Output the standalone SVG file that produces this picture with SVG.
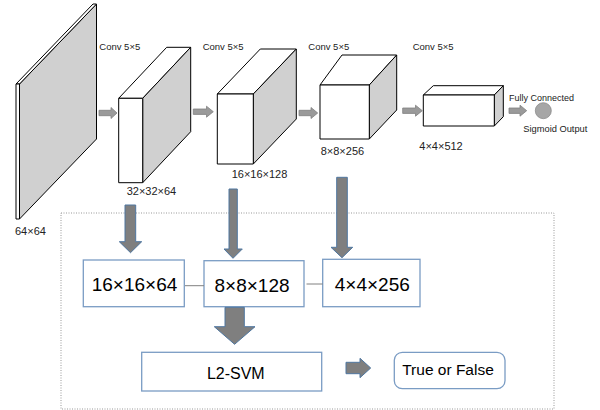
<svg xmlns="http://www.w3.org/2000/svg" width="600" height="410" viewBox="0 0 600 410">
<style>
.edge{stroke:#000;stroke-width:1;stroke-linejoin:round}
.front{fill:#fff}
.side{fill:#d0d0d0}
.top{fill:#fff}
.small{font-family:"Liberation Sans",Arial,sans-serif;font-size:9.5px;fill:#222}
.dim{font-family:"Liberation Sans",Arial,sans-serif;font-size:11px;fill:#222}
.big{font-family:"Liberation Sans",Arial,sans-serif;font-size:19px;fill:#000;text-anchor:middle}
.mid{font-family:"Liberation Sans",Arial,sans-serif;font-size:16px;fill:#000;text-anchor:middle}
.box{fill:#fff;stroke:#7a9cc4;stroke-width:1.3}
.harrow{fill:#9a9a9a;stroke:#808080;stroke-width:0.8}
.varrow{fill:#7f7f7f;stroke:#4f77a0;stroke-width:1}
.conn{stroke:#808080;stroke-width:1;fill:none}
</style>

<g id="input-plane">
  <polygon class="side edge" points="19.5,84 96.5,4 96.5,139 19.5,219"/>
  <polygon class="top edge" points="16,84 19.5,84 96.5,4 93,4"/>
  <rect class="front edge" x="16" y="84" width="3.5" height="135"/>
  <text class="dim" x="15" y="235">64×64</text>
</g>

<g id="block1">
  <polygon class="top edge" points="118.7,98.3 142.7,98.3 190.7,47.3 166.7,47.3"/>
  <polygon class="side edge" points="142.7,98.3 190.7,47.3 190.7,131.7 142.7,182.7"/>
  <rect class="front edge" x="118.7" y="98.3" width="24" height="84.4"/>
  <text class="small" x="99.3" y="49.5">Conv 5×5</text>
  <text class="dim" x="126.7" y="195">32×32×64</text>
</g>

<g id="block2">
  <polygon class="top edge" points="217.3,94 253.3,94 296.3,49 260.3,49"/>
  <polygon class="side edge" points="253.3,94 296.3,49 296.3,119 253.3,164"/>
  <rect class="front edge" x="217.3" y="94" width="36" height="70"/>
  <text class="small" x="202.7" y="49.5">Conv 5×5</text>
  <text class="dim" x="231.7" y="178">16×16×128</text>
</g>

<g id="block3">
  <polygon class="top edge" points="320,85 369.3,85 396.7,55 342,55"/>
  <polygon class="side edge" points="369.3,85 396.7,55 396.7,110 369.3,139"/>
  <rect class="front edge" x="320" y="85" width="49.3" height="54"/>
  <text class="small" x="308.3" y="49.5">Conv 5×5</text>
  <text class="dim" x="320.7" y="155">8×8×256</text>
</g>

<g id="block4">
  <polygon class="top edge" points="423.3,95 494.3,95 503.3,85.7 433.3,85.7"/>
  <polygon class="side edge" points="494.3,95 503.3,85.7 503.3,116.7 494.3,126"/>
  <rect class="front edge" x="423.3" y="95" width="71" height="31"/>
  <text class="small" x="412.7" y="49.5">Conv 5×5</text>
  <text class="dim" x="419.3" y="150">4×4×512</text>
</g>

<g id="output">
  <circle cx="543.3" cy="110.7" r="8" fill="#a6a6a6" stroke="#8c8c8c" stroke-width="0.8"/>
  <text class="small" x="509" y="101" style="font-size:9px">Fully Connected</text>
  <text class="small" x="523.3" y="131.5" style="font-size:9.3px">Sigmoid Output</text>
</g>

<g id="feat1">
  <rect class="box" x="83.3" y="260" width="101" height="46.7"/>
  <text class="big" x="134.5" y="291">16×16×64</text>
</g>
<g id="feat2">
  <rect class="box" x="204" y="260.7" width="100" height="46"/>
  <text class="big" x="252" y="291.5">8×8×128</text>
</g>
<g id="feat3">
  <rect class="box" x="322.7" y="259.3" width="97.3" height="47.4"/>
  <text class="big" x="372.3" y="290.7">4×4×256</text>
</g>
<g id="svm">
  <rect class="box" x="141.7" y="352.3" width="180" height="38.7"/>
  <text class="mid" x="235.8" y="379">L2-SVM</text>
</g>
<g id="result">
  <rect class="box" x="394.3" y="352.3" width="110.7" height="36.4" rx="8" ry="8"/>
  <text class="mid" x="448" y="375" style="font-size:15.5px">True or False</text>
</g>

<g id="connectors">
  <rect x="61" y="213" width="493" height="196" fill="none" stroke="#999" stroke-width="1" stroke-dasharray="1,1.5"/>
  <path class="harrow" d="M99,110.3 H111 V107.5 L117,113 L111,118.5 V115.7 H99 Z"/>
  <path class="harrow" d="M193.3,109 H206.5 V106.2 L213.3,111.7 L206.5,117.2 V114.4 H193.3 Z"/>
  <path class="harrow" d="M299,110.3 H311 V107.5 L317.7,113 L311,118.5 V115.7 H299 Z"/>
  <path class="harrow" d="M402.7,108 H415.5 V105.2 L422.3,110.7 L415.5,116.2 V113.4 H402.7 Z"/>
  <path class="harrow" d="M509,108 H520 V105.2 L526.7,110.7 L520,116.2 V113.4 H509 Z"/>
  <path class="varrow" d="M125,205 H135.7 V241.7 H141.7 L130.5,252.7 L119.3,241.7 H125 Z"/>
  <path class="varrow" d="M229,189 H237.3 V249 H242.3 L233,258.3 L224,249 H229 Z"/>
  <path class="varrow" d="M336.7,177.3 H347.3 V247.3 H352.7 L342,257.7 L331,247.3 H336.7 Z"/>
  <line class="conn" x1="185" y1="285.7" x2="204" y2="285.7"/>
  <line class="conn" x1="306.5" y1="284" x2="322.7" y2="284"/>
  <path class="varrow" d="M225,307.3 H244.3 V326.7 H255 L234.6,344.3 L214.3,326.7 H225 Z"/>
  <path class="varrow" d="M346,362.3 H360 V358.3 L370.7,368 L360,377.7 V373.7 H346 Z"/>
</g>
</svg>
